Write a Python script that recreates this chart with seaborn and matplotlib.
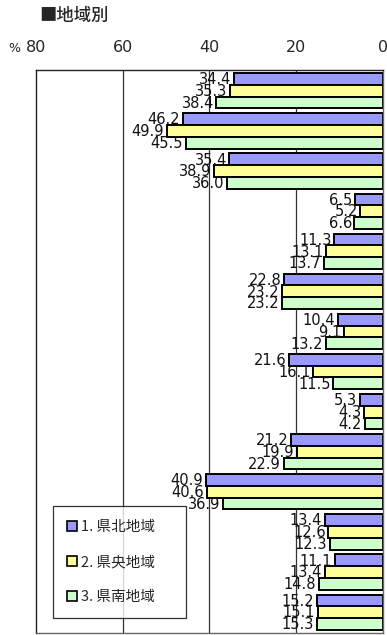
import matplotlib
matplotlib.use("Agg")
import matplotlib.pyplot as plt
import seaborn as sns
import pandas as pd
import numpy as np
from matplotlib import font_manager

# Survey items (one group of three bars per item)
items = [f"Q{i}" for i in range(1, 15)]
regions = ["1. 県北地域", "2. 県央地域", "3. 県南地域"]

north = [34.4, 46.2, 35.4, 6.5, 11.3, 22.8, 10.4, 21.6, 5.3, 21.2, 40.9, 13.4, 11.1, 15.2]
central = [35.3, 49.9, 38.9, 5.2, 13.1, 23.2, 9.1, 16.1, 4.3, 19.9, 40.6, 12.6, 13.4, 15.1]
south = [38.4, 45.5, 36.0, 6.6, 13.7, 23.2, 13.2, 11.5, 4.2, 22.9, 36.9, 12.3, 14.8, 15.3]

x_ticks = [80, 60, 40, 20, 0]
colors = ["#9999FF", "#FFFF99", "#CCFFCC"]

df = pd.DataFrame({
    "item": items * 3,
    "region": [regions[0]] * 14 + [regions[1]] * 14 + [regions[2]] * 14,
    "value": north + central + south,
})

sns.set_theme(style="white")
plt.rcParams["font.family"] = ["Noto Sans CJK JP", "DejaVu Sans"]

names = {f.name for f in font_manager.fontManager.ttflist}
num_font = "Liberation Sans Narrow" if "Liberation Sans Narrow" in names else "DejaVu Sans"

fig = plt.figure(figsize=(3.87, 6.35), dpi=100)
ax = fig.add_axes([36 / 387, 2 / 635, 347 / 387, 563 / 635])

sns.barplot(
    data=df, y="item", x="value", hue="region", order=items, hue_order=regions,
    palette=colors, orient="h", width=0.88, edgecolor="black", linewidth=1.4,
    ax=ax, legend=True, saturation=1, errorbar=None,
)

ax.set_xlim(80, 0)
ax.set_ylim(len(items) - 0.5 + 0.02, -0.5 - 0.02)

# vertical grid lines
for g in [60, 40, 20]:
    ax.axvline(g, color="#333333", lw=0.9, zorder=0)

# value labels to the left of each bar end
for cont in ax.containers:
    for rect in cont:
        v = rect.get_width()
        yc = rect.get_y() + rect.get_height() / 2
        ax.text(v + 0.6, yc + 0.02, f"{v:.1f}", ha="right", va="center",
                fontsize=10.5, family=num_font, color="#111111")

ax.xaxis.tick_top()
ax.set_xticks(x_ticks)
ax.set_xticklabels([str(t) for t in x_ticks], fontsize=11.5, family="DejaVu Sans")
ax.tick_params(axis="x", length=0, pad=10.5)
ax.set_yticks([])
ax.set_xlabel("")
ax.set_ylabel("")

for side in ["top", "left", "bottom", "right"]:
    ax.spines[side].set_visible(True)
    ax.spines[side].set_color("#222222")
    ax.spines[side].set_linewidth(1.0)
ax.spines["right"].set_color("#666666")
ax.spines["bottom"].set_color("#666666")

fig.text(14 / 387, 1 - 48 / 635, "%", fontsize=9, ha="center", va="center",
         family="DejaVu Sans")
fig.text(39 / 387, 1 - 16 / 635, "■地域別", fontsize=12.5, ha="left", va="center",
         weight="medium")

leg = ax.legend(
    loc="lower left", bbox_to_anchor=(17 / 347, 15 / 563, 133 / 347, 110 / 563),
    mode="expand", frameon=True, fancybox=False, fontsize=10.5,
    handlelength=0.7, handleheight=0.7, labelspacing=1.45, borderpad=0.95,
    handletextpad=0.3, borderaxespad=0,
)
leg.get_frame().set_edgecolor("black")
leg.get_frame().set_linewidth(0.9)
for h in leg.legend_handles:
    h.set_edgecolor("black")
    h.set_linewidth(1.2)

fig.savefig("out.png", dpi=100)
